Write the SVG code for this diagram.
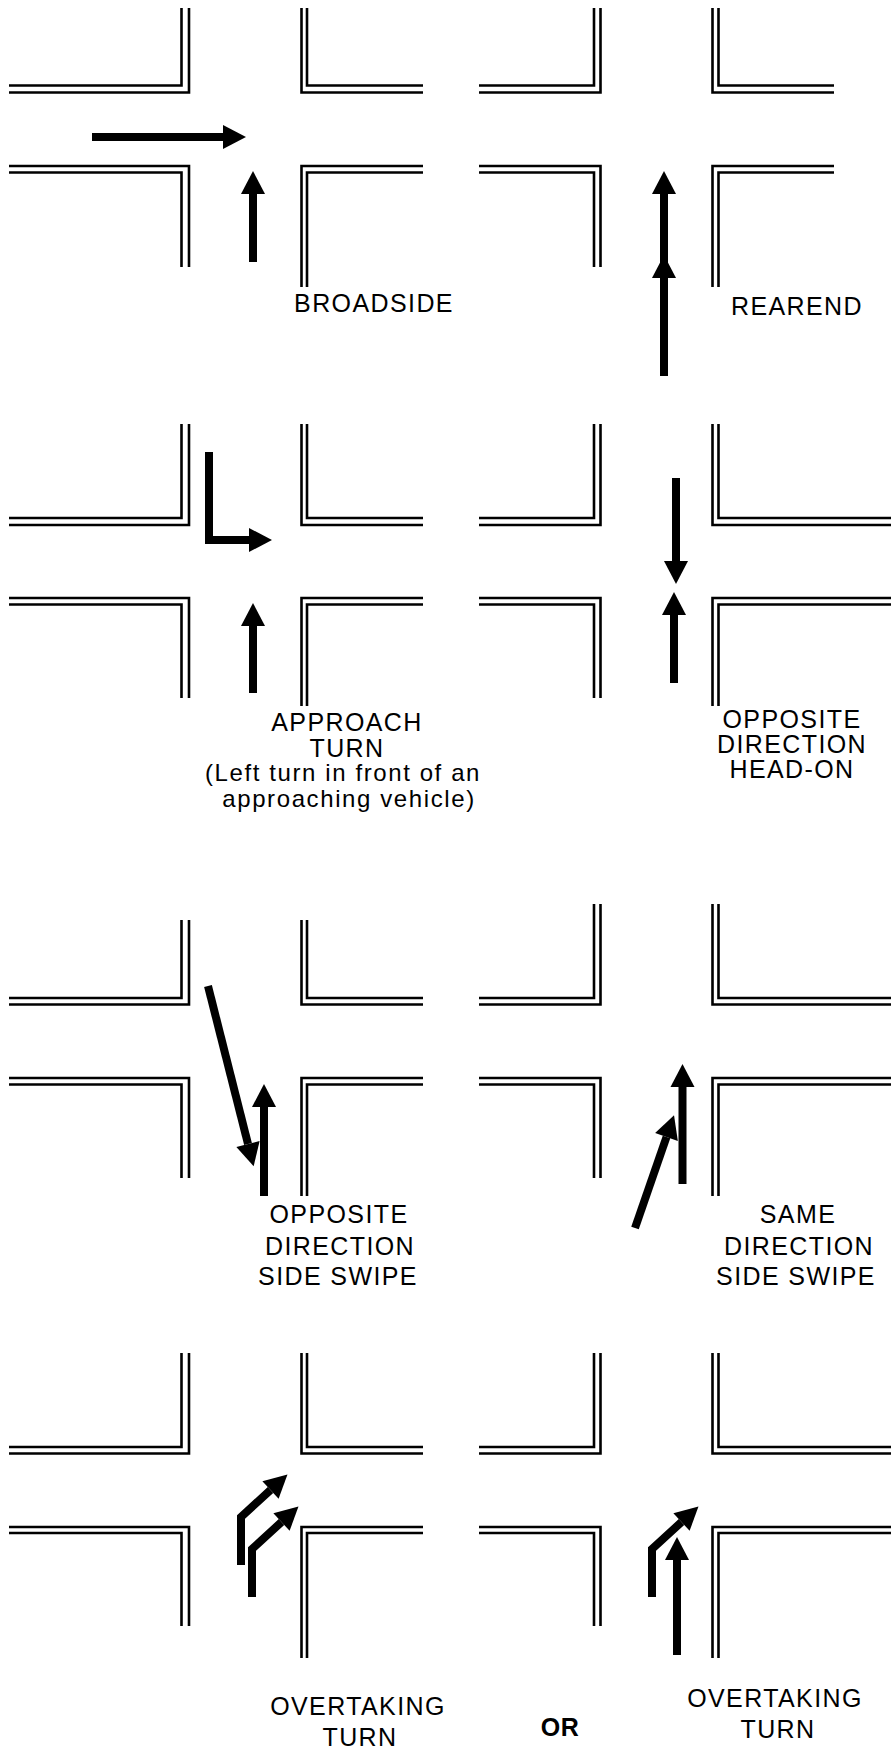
<svg xmlns="http://www.w3.org/2000/svg" width="891" height="1750" viewBox="0 0 891 1750">
  <style>
    .road { fill: none; stroke: #000; stroke-width: 2.6; stroke-linejoin: miter; stroke-linecap: butt; }
    .arr { fill: none; stroke: #000; stroke-width: 8; stroke-linejoin: miter; stroke-linecap: butt; marker-end: url(#ah); }
    .lbl { font-family: "Liberation Sans", Arial, sans-serif; font-size: 25px; letter-spacing: 1.4px; text-anchor: middle; fill: #000; }
    .sm { font-size: 24px; letter-spacing: 1.6px; }
    .bold { font-weight: bold; letter-spacing: 0.5px; }
  </style>
  <defs>
    <marker id="ah" markerUnits="userSpaceOnUse" markerWidth="24" markerHeight="26" viewBox="0 -13 24 26" refX="0" refY="0" orient="auto" overflow="visible">
      <path d="M0,-12 L23,0 L0,12 Z" fill="#000"/>
    </marker>
  </defs>
  <rect width="891" height="1750" fill="#fff"/>

  <g id="panel-broadside">
    <g class="roads">
      <path class="road" d="M9,85.5 H181.5 V8 M9,92.5 H189 V8"/>
      <path class="road" d="M301.5,8 V92.5 H423 M307,8 V85.5 H423"/>
      <path class="road" d="M9,166 H189 V267 M9,172.5 H181.5 V267"/>
      <path class="road" d="M301.5,287 V166 H423 M307,287 V172.5 H423"/>
    </g>
    <text class="lbl" x="374" y="312">BROADSIDE</text>
  </g>

  <g id="panel-rearend">
    <g class="roads">
      <path class="road" d="M479,85.5 H594 V8 M479,92.5 H600.5 V8"/>
      <path class="road" d="M712.5,8 V92.5 H834 M718.5,8 V85.5 H834"/>
      <path class="road" d="M479,166 H600.5 V267 M479,172.5 H594 V267"/>
      <path class="road" d="M712.5,287 V166 H834 M718.5,287 V172.5 H834"/>
    </g>
    <text class="lbl" x="797" y="315">REAREND</text>
  </g>

  <g id="panel-approach-turn">
    <g class="roads">
      <path class="road" d="M9,518 H181.5 V424 M9,525 H189 V424"/>
      <path class="road" d="M301.5,424 V525 H423 M307,424 V518 H423"/>
      <path class="road" d="M9,598 H189 V698 M9,604.5 H181.5 V698"/>
      <path class="road" d="M301.5,706 V598 H423 M307,706 V604.5 H423"/>
    </g>
    <text class="lbl" x="347" y="731">APPROACH</text>
    <text class="lbl" x="347" y="757">TURN</text>
    <text class="lbl sm" x="343" y="781">(Left turn in front of an</text>
    <text class="lbl sm" x="349" y="807">approaching vehicle)</text>
  </g>

  <g id="panel-head-on">
    <g class="roads">
      <path class="road" d="M479,518 H594 V424 M479,525 H600.5 V424"/>
      <path class="road" d="M712.5,424 V525 H891 M718.5,424 V518 H891"/>
      <path class="road" d="M479,598 H600.5 V698 M479,604.5 H594 V698"/>
      <path class="road" d="M712.5,706 V598 H891 M718.5,706 V604.5 H891"/>
    </g>
    <text class="lbl" x="792" y="728">OPPOSITE</text>
    <text class="lbl" x="792" y="753">DIRECTION</text>
    <text class="lbl" x="792" y="778">HEAD-ON</text>
  </g>

  <g id="panel-opposite-side-swipe">
    <g class="roads">
      <path class="road" d="M9,998 H181.5 V920 M9,1004.5 H189 V920"/>
      <path class="road" d="M301.5,920 V1004.5 H423 M307,920 V998 H423"/>
      <path class="road" d="M9,1078 H189 V1178 M9,1084.5 H181.5 V1178"/>
      <path class="road" d="M301.5,1196 V1078 H423 M307,1196 V1084.5 H423"/>
    </g>
    <text class="lbl" x="339" y="1223">OPPOSITE</text>
    <text class="lbl" x="340" y="1255">DIRECTION</text>
    <text class="lbl" x="338" y="1285">SIDE SWIPE</text>
  </g>

  <g id="panel-same-side-swipe">
    <g class="roads">
      <path class="road" d="M479,998 H594 V904 M479,1004.5 H600.5 V904"/>
      <path class="road" d="M712.5,904 V1004.5 H891 M718.5,904 V998 H891"/>
      <path class="road" d="M479,1078 H600.5 V1178 M479,1084.5 H594 V1178"/>
      <path class="road" d="M712.5,1196 V1078 H891 M718.5,1196 V1084.5 H891"/>
    </g>
    <text class="lbl" x="798" y="1223">SAME</text>
    <text class="lbl" x="799" y="1255">DIRECTION</text>
    <text class="lbl" x="796" y="1285">SIDE SWIPE</text>
  </g>

  <g id="panel-overtaking-turn-1">
    <g class="roads">
      <path class="road" d="M9,1447 H181.5 V1353 M9,1453.5 H189 V1353"/>
      <path class="road" d="M301.5,1353 V1453.5 H423 M307,1353 V1447 H423"/>
      <path class="road" d="M9,1527 H189 V1626 M9,1533 H181.5 V1626"/>
      <path class="road" d="M301.5,1658 V1527 H423 M307,1658 V1533 H423"/>
    </g>
    <text class="lbl" x="358" y="1715">OVERTAKING</text>
    <text class="lbl" x="360" y="1746">TURN</text>
  </g>

  <g id="label-or">
    <text class="lbl bold" x="560" y="1736">OR</text>
  </g>

  <g id="panel-overtaking-turn-2">
    <g class="roads">
      <path class="road" d="M479,1447 H594 V1353 M479,1453.5 H600.5 V1353"/>
      <path class="road" d="M712.5,1353 V1453.5 H891 M718.5,1353 V1447 H891"/>
      <path class="road" d="M479,1527 H600.5 V1626 M479,1533 H594 V1626"/>
      <path class="road" d="M712.5,1658 V1527 H891 M718.5,1658 V1533 H891"/>
    </g>
    <text class="lbl" x="775" y="1707">OVERTAKING</text>
    <text class="lbl" x="778" y="1738">TURN</text>
  </g>

  <g id="connectors">
    <!-- broadside -->
    <path class="arr" d="M92,137 H223"/>
    <path class="arr" d="M253,262 V194"/>
    <!-- rearend -->
    <path class="arr" d="M664,376 V278"/>
    <path class="arr" d="M664,272 V194"/>
    <!-- approach turn -->
    <path class="arr" d="M209,452 V540 H249"/>
    <path class="arr" d="M253,693 V626"/>
    <!-- head-on -->
    <path class="arr" d="M676,478 V561"/>
    <path class="arr" d="M674,683 V615"/>
    <!-- opposite direction side swipe -->
    <path class="arr" d="M208,986 L248,1144"/>
    <path class="arr" d="M264,1196 V1107"/>
    <!-- same direction side swipe -->
    <path class="arr" d="M682.5,1184 V1087"/>
    <path class="arr" d="M635,1228 L666.5,1137"/>
    <!-- overtaking turn 1 -->
    <path class="arr" d="M241,1565 V1517 L270.5,1490"/>
    <path class="arr" d="M252,1597 V1549 L281.5,1522"/>
    <!-- overtaking turn 2 -->
    <path class="arr" d="M652,1597 V1549 L681.5,1522"/>
    <path class="arr" d="M677,1655 V1560"/>
  </g>
</svg>
